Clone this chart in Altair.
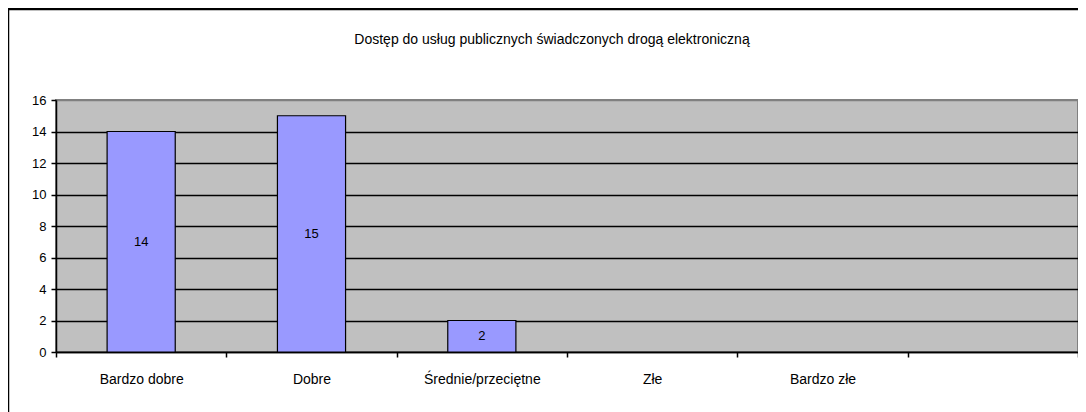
import altair as alt
import pandas as pd

categories = ["Bardzo dobre", "Dobre", "Średnie/przeciętne", "Złe", "Bardzo złe", " "]
values = [14, 15, 2, 0, 0, None]
y_ticks = [0, 2, 4, 6, 8, 10, 12, 14, 16]
title_text = "Dostęp do usług publicznych świadczonych drogą elektroniczną"

df = pd.DataFrame({"cat": categories, "val": values})

FONT = "Liberation Sans"
x_scale = alt.Scale(domain=categories, paddingInner=0, paddingOuter=0)
y_scale = alt.Scale(domain=[0, 16], nice=False)

x_axis = alt.Axis(
    title=None, labelAngle=0, tickBand="extent", tickSize=5, tickColor="black",
    tickWidth=1.5, domainColor="black", domainWidth=1.5, labelPadding=15,
    labelFontSize=14, labelFont=FONT, labelColor="black", grid=False,
)
y_axis = alt.Axis(
    title=None, values=y_ticks, tickSize=5, tickColor="black", tickWidth=1.5,
    domainColor="black", domainWidth=1.5, labelPadding=5, labelFontSize=13,
    labelFont=FONT, labelColor="black", grid=True, labelOverlap=False,
    gridColor={"condition": {"test": "datum.value === 16", "value": "#808080"}, "value": "black"},
    gridWidth=1.5,
)

base = alt.Chart(df).transform_filter("datum.val > 0")

bars = base.mark_bar(
    width=alt.RelativeBandSize(0.4), color="#9999FF", stroke="black", strokeWidth=1.2
).encode(
    x=alt.X("cat:N", sort=categories, scale=x_scale, axis=x_axis),
    y=alt.Y("val:Q", scale=y_scale, axis=y_axis),
)

labels = base.transform_calculate(mid="datum.val / 2").mark_text(
    font=FONT, fontSize=13, color="black", baseline="middle"
).encode(
    x=alt.X("cat:N", sort=categories, scale=x_scale, axis=x_axis),
    y=alt.Y("mid:Q", scale=y_scale, axis=y_axis),
    text="val:Q",
)

title = alt.Chart(pd.DataFrame({"t": [title_text]})).mark_text(
    font=FONT, fontSize=14, color="black", align="center", baseline="middle"
).encode(text="t:N", x=alt.value(496), y=alt.value(-60))

border = alt.Chart(pd.DataFrame({"t": [title_text]})).mark_rect(
    fillOpacity=0, stroke="black", strokeWidth=2.5
).encode(x=alt.value(-48), x2=alt.value(1080), y=alt.value(-91), y2=alt.value(340))

chart = alt.layer(bars, labels, title, border).properties(
    width=1022,
    height=252,
    autosize=alt.AutoSizeParams(type="none"),
    padding={"left": 48, "top": 92, "right": 0, "bottom": 64},
    background="white",
).configure_view(
    fill="#C0C0C0", stroke="#808080", strokeWidth=2
)

chart.save("out.html", embed_options={"renderer": "svg", "actions": False})
